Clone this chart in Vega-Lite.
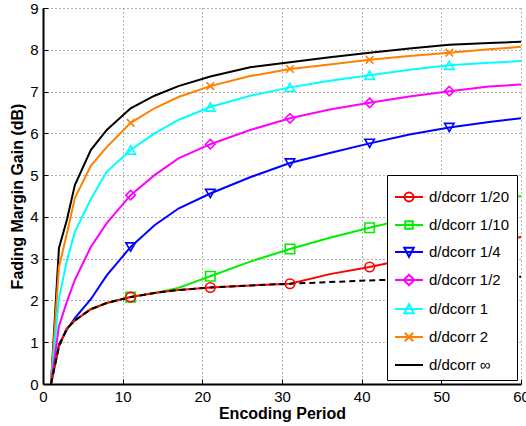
{
  "$schema": "https://vega.github.io/schema/vega-lite/v6.json",
  "width": 478,
  "height": 376,
  "autosize": "none",
  "padding": {"left": 43, "top": 8, "right": 5, "bottom": 42},
  "background": "white",
  "config": {
    "view": {"stroke": null},
    "font": "Liberation Sans",
    "axis": {
      "domainColor": "black", "domainWidth": 2,
      "tickColor": "black", "tickWidth": 1, "tickSize": -5,
      "labelFont": "Liberation Sans", "labelFontSize": 15, "labelColor": "black",
      "titleFont": "Liberation Sans", "titleFontSize": 16, "titleFontWeight": "bold", "titleColor": "black",
      "grid": true, "gridColor": "#666666", "gridDash": [1, 3], "gridWidth": 1
    }
  },
  "data": {
    "values": [
      {"s": "∞", "x": 1, "y": 0}, {"s": "∞", "x": 2, "y": 3.25}, {"s": "∞", "x": 3, "y": 3.93}, {"s": "∞", "x": 4, "y": 4.76}, {"s": "∞", "x": 6, "y": 5.6}, {"s": "∞", "x": 8, "y": 6.08}, {"s": "∞", "x": 11, "y": 6.6}, {"s": "∞", "x": 14, "y": 6.9}, {"s": "∞", "x": 17, "y": 7.13}, {"s": "∞", "x": 21, "y": 7.36}, {"s": "∞", "x": 26, "y": 7.58}, {"s": "∞", "x": 31, "y": 7.7}, {"s": "∞", "x": 36, "y": 7.82}, {"s": "∞", "x": 41, "y": 7.93}, {"s": "∞", "x": 46, "y": 8.03}, {"s": "∞", "x": 51, "y": 8.12}, {"s": "∞", "x": 56, "y": 8.16}, {"s": "∞", "x": 60, "y": 8.19},
      {"s": "2", "x": 1, "y": 0}, {"s": "2", "x": 2, "y": 2.8}, {"s": "2", "x": 3, "y": 3.6}, {"s": "2", "x": 4, "y": 4.45}, {"s": "2", "x": 6, "y": 5.22}, {"s": "2", "x": 8, "y": 5.67}, {"s": "2", "x": 11, "y": 6.25}, {"s": "2", "x": 14, "y": 6.6}, {"s": "2", "x": 17, "y": 6.87}, {"s": "2", "x": 21, "y": 7.13}, {"s": "2", "x": 26, "y": 7.37}, {"s": "2", "x": 31, "y": 7.54}, {"s": "2", "x": 36, "y": 7.65}, {"s": "2", "x": 41, "y": 7.76}, {"s": "2", "x": 46, "y": 7.85}, {"s": "2", "x": 51, "y": 7.93}, {"s": "2", "x": 56, "y": 8.01}, {"s": "2", "x": 60, "y": 8.07},
      {"s": "1", "x": 1, "y": 0}, {"s": "1", "x": 2, "y": 2.05}, {"s": "1", "x": 3, "y": 2.95}, {"s": "1", "x": 4, "y": 3.64}, {"s": "1", "x": 6, "y": 4.42}, {"s": "1", "x": 8, "y": 5.08}, {"s": "1", "x": 11, "y": 5.6}, {"s": "1", "x": 14, "y": 6.0}, {"s": "1", "x": 17, "y": 6.32}, {"s": "1", "x": 21, "y": 6.63}, {"s": "1", "x": 26, "y": 6.9}, {"s": "1", "x": 31, "y": 7.1}, {"s": "1", "x": 36, "y": 7.26}, {"s": "1", "x": 41, "y": 7.39}, {"s": "1", "x": 46, "y": 7.52}, {"s": "1", "x": 51, "y": 7.63}, {"s": "1", "x": 56, "y": 7.69}, {"s": "1", "x": 60, "y": 7.73},
      {"s": "1/2", "x": 1, "y": 0}, {"s": "1/2", "x": 2, "y": 1.38}, {"s": "1/2", "x": 3, "y": 1.97}, {"s": "1/2", "x": 4, "y": 2.49}, {"s": "1/2", "x": 6, "y": 3.28}, {"s": "1/2", "x": 8, "y": 3.85}, {"s": "1/2", "x": 11, "y": 4.52}, {"s": "1/2", "x": 14, "y": 5.0}, {"s": "1/2", "x": 17, "y": 5.4}, {"s": "1/2", "x": 21, "y": 5.74}, {"s": "1/2", "x": 26, "y": 6.08}, {"s": "1/2", "x": 31, "y": 6.36}, {"s": "1/2", "x": 36, "y": 6.57}, {"s": "1/2", "x": 41, "y": 6.73}, {"s": "1/2", "x": 46, "y": 6.88}, {"s": "1/2", "x": 51, "y": 7.01}, {"s": "1/2", "x": 56, "y": 7.12}, {"s": "1/2", "x": 60, "y": 7.17},
      {"s": "1/4", "x": 1, "y": 0}, {"s": "1/4", "x": 2, "y": 0.95}, {"s": "1/4", "x": 3, "y": 1.3}, {"s": "1/4", "x": 4, "y": 1.58}, {"s": "1/4", "x": 6, "y": 2.03}, {"s": "1/4", "x": 8, "y": 2.6}, {"s": "1/4", "x": 11, "y": 3.28}, {"s": "1/4", "x": 14, "y": 3.8}, {"s": "1/4", "x": 17, "y": 4.2}, {"s": "1/4", "x": 21, "y": 4.56}, {"s": "1/4", "x": 26, "y": 4.95}, {"s": "1/4", "x": 31, "y": 5.29}, {"s": "1/4", "x": 36, "y": 5.53}, {"s": "1/4", "x": 41, "y": 5.76}, {"s": "1/4", "x": 46, "y": 5.97}, {"s": "1/4", "x": 51, "y": 6.14}, {"s": "1/4", "x": 56, "y": 6.27}, {"s": "1/4", "x": 60, "y": 6.36},
      {"s": "1/10", "x": 1, "y": 0}, {"s": "1/10", "x": 2, "y": 0.9}, {"s": "1/10", "x": 3, "y": 1.33}, {"s": "1/10", "x": 4, "y": 1.52}, {"s": "1/10", "x": 6, "y": 1.79}, {"s": "1/10", "x": 8, "y": 1.94}, {"s": "1/10", "x": 11, "y": 2.08}, {"s": "1/10", "x": 14, "y": 2.18}, {"s": "1/10", "x": 17, "y": 2.3}, {"s": "1/10", "x": 21, "y": 2.58}, {"s": "1/10", "x": 26, "y": 2.93}, {"s": "1/10", "x": 31, "y": 3.23}, {"s": "1/10", "x": 36, "y": 3.5}, {"s": "1/10", "x": 41, "y": 3.74}, {"s": "1/10", "x": 46, "y": 3.97}, {"s": "1/10", "x": 51, "y": 4.18}, {"s": "1/10", "x": 56, "y": 4.38}, {"s": "1/10", "x": 60, "y": 4.5},
      {"s": "1/20", "x": 1, "y": 0}, {"s": "1/20", "x": 2, "y": 0.9}, {"s": "1/20", "x": 3, "y": 1.33}, {"s": "1/20", "x": 4, "y": 1.52}, {"s": "1/20", "x": 6, "y": 1.79}, {"s": "1/20", "x": 8, "y": 1.94}, {"s": "1/20", "x": 11, "y": 2.08}, {"s": "1/20", "x": 14, "y": 2.18}, {"s": "1/20", "x": 17, "y": 2.25}, {"s": "1/20", "x": 21, "y": 2.31}, {"s": "1/20", "x": 26, "y": 2.36}, {"s": "1/20", "x": 31, "y": 2.4}, {"s": "1/20", "x": 36, "y": 2.63}, {"s": "1/20", "x": 41, "y": 2.8}, {"s": "1/20", "x": 46, "y": 3.0}, {"s": "1/20", "x": 51, "y": 3.2}, {"s": "1/20", "x": 56, "y": 3.38}, {"s": "1/20", "x": 60, "y": 3.52},
      {"s": "lim", "x": 1, "y": 0}, {"s": "lim", "x": 2, "y": 0.9}, {"s": "lim", "x": 3, "y": 1.33}, {"s": "lim", "x": 4, "y": 1.52}, {"s": "lim", "x": 6, "y": 1.79}, {"s": "lim", "x": 8, "y": 1.94}, {"s": "lim", "x": 11, "y": 2.08}, {"s": "lim", "x": 14, "y": 2.18}, {"s": "lim", "x": 17, "y": 2.25}, {"s": "lim", "x": 21, "y": 2.31}, {"s": "lim", "x": 26, "y": 2.36}, {"s": "lim", "x": 31, "y": 2.4}, {"s": "lim", "x": 36, "y": 2.44}, {"s": "lim", "x": 41, "y": 2.48}, {"s": "lim", "x": 46, "y": 2.51}, {"s": "lim", "x": 51, "y": 2.53}, {"s": "lim", "x": 56, "y": 2.55}, {"s": "lim", "x": 60, "y": 2.57}
    ]
  },
  "encoding": {
    "x": {"field": "x", "type": "quantitative", "scale": {"domain": [0, 60], "nice": false},
      "axis": {"title": "Encoding Period", "values": [0, 10, 20, 30, 40, 50, 60], "labelPadding": 10, "titlePadding": 1, "labelFlush": false}},
    "y": {"field": "y", "type": "quantitative", "scale": {"domain": [0, 9], "nice": false},
      "axis": {"title": "Fading Margin Gain (dB)", "values": [0, 1, 2, 3, 4, 5, 6, 7, 8, 9], "labelPadding": 10, "titlePadding": 4}}
  },
  "layer": [
    {
      "transform": [{"filter": "datum.s !== 'lim'"}],
      "mark": {"type": "line", "strokeWidth": 2, "clip": true},
      "encoding": {
        "color": {
          "field": "s", "type": "nominal",
          "scale": {"domain": ["1/20", "1/10", "1/4", "1/2", "1", "2", "∞"],
                    "range": ["#ff0000", "#00ee00", "#0000ff", "#ff00ff", "#00ffff", "#ff8000", "#000000"]},
          "legend": {
            "title": null, "orient": "bottom-right", "offset": 4,
            "fillColor": "white", "strokeColor": "black", "padding": 7,
            "labelFontSize": 15, "labelFont": "Liberation Sans", "labelColor": "black",
            "symbolSize": 784, "symbolStrokeWidth": 2, "labelOffset": 5, "rowPadding": 4,
            "labelExpr": "'d/dcorr ' + datum.label",
            "encode": {
              "symbols": {
                "update": {
                  "fill": {"value": "transparent"},
                  "shape": {"signal": "datum.value === '1/20' ? 'M-1,0H1M0.32,0A0.32,0.32 0 1,1 -0.32,0A0.32,0.32 0 1,1 0.32,0' : datum.value === '1/10' ? 'M-1,0H1M-0.27,-0.27H0.27V0.27H-0.27Z' : datum.value === '1/4' ? 'M-1,0H1M-0.34,-0.3L0.34,-0.3L0,0.34Z' : datum.value === '1/2' ? 'M-1,0H1M0,-0.38L0.38,0L0,0.38L-0.38,0Z' : datum.value === '1' ? 'M-1,0H1M-0.34,0.3L0.34,0.3L0,-0.34Z' : datum.value === '2' ? 'M-1,0H1M-0.3,-0.3L0.3,0.3M-0.3,0.3L0.3,-0.3' : 'M-1,0H1'"}
                }
              }
            }
          }
        }
      }
    },
    {
      "transform": [{"filter": "datum.s === 'lim'"}],
      "mark": {"type": "line", "strokeWidth": 2, "color": "black", "strokeDash": [6, 4]},
      "encoding": {}
    },
    {
      "transform": [
        {"filter": "datum.s !== 'lim' && datum.s !== '∞' && indexof([11, 21, 31, 41, 51], datum.x) >= 0"},
        {"calculate": "datum.s", "as": "m"}
      ],
      "mark": {"type": "point", "filled": false, "strokeWidth": 1.6, "size": 90, "opacity": 1},
      "encoding": {
        "color": {"field": "s", "type": "nominal"},
        "shape": {"field": "m", "type": "nominal", "legend": null,
          "scale": {"domain": ["1/20", "1/10", "1/4", "1/2", "1", "2"],
                    "range": ["circle", "square", "triangle-down", "diamond", "triangle-up", "M-0.8,-0.8L0.8,0.8M-0.8,0.8L0.8,-0.8"]}}
      }
    }
  ]
}
